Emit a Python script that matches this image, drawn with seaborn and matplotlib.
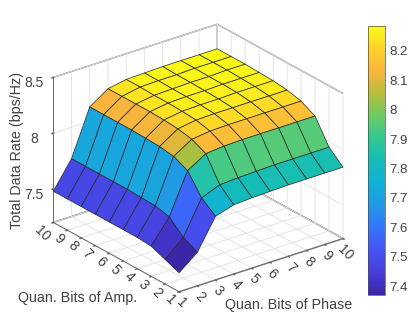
"""
Total data rate against quantisation bits, parula style 3D surface.
"""

import matplotlib.pyplot as plt
import numpy as np
import seaborn as sns
from matplotlib.cm import ScalarMappable
from matplotlib.colors import Normalize

bits = [1, 2, 3, 4, 5, 6, 7, 8, 9, 10]

# Each list is one phase bit setting, running over amp bits 1 to 10
rate_phase_1 = [7.37, 7.42, 7.47, 7.48, 7.48, 7.48, 7.48, 7.48, 7.48, 7.48]
rate_phase_2 = [7.50, 7.565, 7.68, 7.71, 7.715, 7.72, 7.72, 7.72, 7.72, 7.72]
rate_phase_3 = [7.77, 7.865, 8.04, 8.10, 8.12, 8.125, 8.13, 8.13, 8.13, 8.13]
rate_phase_4 = [7.82, 7.93, 8.14, 8.20, 8.225, 8.235, 8.24, 8.24, 8.24, 8.24]
rate_phase_5 = [7.83, 7.94, 8.155, 8.22, 8.25, 8.26, 8.265, 8.265, 8.27, 8.27]
rate_phase_6 = [7.835, 7.945, 8.16, 8.225, 8.255, 8.265, 8.27, 8.27, 8.275, 8.275]
rate_phase_7 = [7.84, 7.95, 8.16, 8.225, 8.255, 8.265, 8.27, 8.275, 8.275, 8.28]
rate_phase_8 = [7.84, 7.95, 8.16, 8.225, 8.255, 8.27, 8.275, 8.275, 8.28, 8.28]
rate_phase_9 = [7.84, 7.95, 8.16, 8.225, 8.255, 8.27, 8.275, 8.28, 8.28, 8.28]
rate_phase_10 = [7.84, 7.95, 8.16, 8.225, 8.255, 8.27, 8.275, 8.28, 8.28, 8.28]

z_ticks = [7.5, 8, 8.5]
z_tick_labels = ["7.5", "8", "8.5"]
cbar_ticks = [7.4, 7.5, 7.6, 7.7, 7.8, 7.9, 8, 8.1, 8.2]
cbar_tick_labels = ["7.4", "7.5", "7.6", "7.7", "7.8", "7.9", "8", "8.1", "8.2"]

# Colours, evenly spaced from bottom to top
bar_colors = [
    (0.23, 0.15, 0.66),
    (0.27, 0.24, 0.85),
    (0.28, 0.33, 0.96),
    (0.20, 0.46, 0.98),
    (0.13, 0.60, 0.90),
    (0.07, 0.69, 0.84),
    (0.08, 0.74, 0.72),
    (0.20, 0.78, 0.58),
    (0.42, 0.80, 0.40),
    (0.72, 0.74, 0.22),
    (0.98, 0.71, 0.24),
    (1.00, 0.82, 0.17),
    (0.98, 0.98, 0.08),
]

sns.set_theme(style="white")
plt.rcParams["font.family"] = ["Liberation Sans", "DejaVu Sans"]
plt.rcParams["grid.color"] = "0.88"
plt.rcParams["grid.linewidth"] = 0.6
plt.rcParams["axes3d.grid"] = True
text_color = "0.25"

cmap = sns.blend_palette(bar_colors, n_colors=256, as_cmap=True)
norm = Normalize(7.37, 8.285)

rate = np.array(
    [
        rate_phase_1,
        rate_phase_2,
        rate_phase_3,
        rate_phase_4,
        rate_phase_5,
        rate_phase_6,
        rate_phase_7,
        rate_phase_8,
        rate_phase_9,
        rate_phase_10,
    ]
)
phase_grid, amp_grid = np.meshgrid(bits, bits, indexing="ij")

fig = plt.figure(figsize=(4.15, 3.3), dpi=100)
ax = fig.add_axes([-0.008, 0.018, 0.95, 0.98], projection="3d")
ax.set_proj_type("ortho")
ax.view_init(elev=25, azim=-127.5)
ax.set_box_aspect((1, 1, 0.775), zoom=1.0)

ax.plot_surface(
    phase_grid,
    amp_grid,
    rate,
    rstride=1,
    cstride=1,
    facecolors=cmap(norm(rate)),
    edgecolor="0.15",
    linewidth=0.5,
    shade=False,
    antialiased=True,
)

ax.set_xlim(1, 10, view_margin=0)
ax.set_ylim(1, 10, view_margin=0)
ax.set_zlim(7.2, 8.5, view_margin=0)
ax.set_xticks(bits)
ax.set_yticks(bits)
ax.set_zticks(z_ticks)
ax.set_zticklabels(z_tick_labels)

for axis in (ax.xaxis, ax.yaxis, ax.zaxis):
    axis.set_pane_color((1, 1, 1, 1))
    axis.pane.set_edgecolor("0.5")
    axis.line.set_color("0.4")
    axis.line.set_linewidth(0.7)
    axis._axinfo["tick"]["inward_factor"] = 0.1
    axis._axinfo["tick"]["outward_factor"] = 0.0

ax.tick_params(axis="x", labelsize=10, labelcolor=text_color, pad=-6, labelrotation=-45, color="0.4")
ax.tick_params(axis="y", labelsize=10, labelcolor=text_color, pad=-7.5, labelrotation=-45, color="0.4")
ax.tick_params(axis="z", labelsize=10, labelcolor=text_color, pad=0, color="0.4")
for label in ax.yaxis.get_ticklabels():
    label.set_ha("right")

fig.text(78 / 415, 1 - 298 / 330, "Quan. Bits of Amp.", fontsize=10.3, color=text_color, ha="center", va="center")
fig.text(289 / 415, 1 - 305 / 330, "Quan. Bits of Phase", fontsize=10.3, color=text_color, ha="center", va="center")
fig.text(17 / 415, 1 - 150 / 330, "Total Data Rate (bps/Hz)", fontsize=10.3, color=text_color, ha="center", va="center", rotation=90)

cax = fig.add_axes([368 / 415, 1 - 295 / 330, 17 / 415, 269 / 330])
cbar = fig.colorbar(ScalarMappable(norm=norm, cmap=cmap), cax=cax)
cbar.set_ticks(cbar_ticks, labels=cbar_tick_labels)
cbar.ax.tick_params(labelsize=9.5, labelcolor=text_color, direction="in", length=3, width=0.5, color="0.3", pad=3)
cbar.outline.set_edgecolor("0.3")
cbar.outline.set_linewidth(0.5)

fig.savefig("out.png", dpi=100)
